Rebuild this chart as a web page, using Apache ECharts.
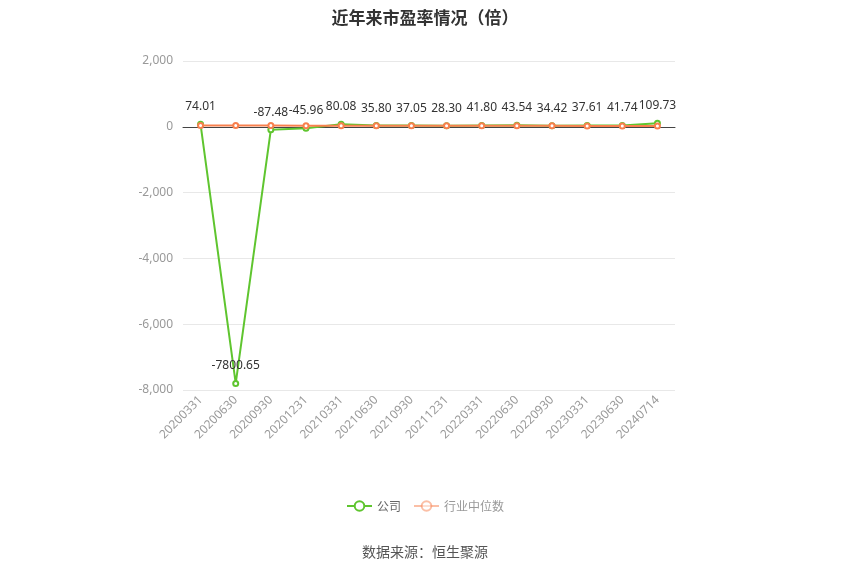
<!DOCTYPE html>
<html>
<head>
<meta charset="utf-8">
<script src="https://cdn.jsdelivr.net/npm/echarts@6/dist/echarts.min.js"></script>
<style>
  html, body { margin: 0; padding: 0; background: #fff; }
  #chart { width: 850px; height: 575px; }
</style>
</head>
<body>
<div id="chart"></div>
<script>
// 报告期
var categories = ['20200331', '20200630', '20200930', '20201231', '20210331', '20210630', '20210930',
  '20211231', '20220331', '20220630', '20220930', '20230331', '20230630', '20240714'];
// 公司市盈率
var companyPE = [74.01, -7800.65, -87.48, -45.96, 80.08, 35.80, 37.05, 28.30, 41.80, 43.54, 34.42, 37.61, 41.74, 109.73];
// 行业中位数（图上只能估读）
var industryPE = [40, 38, 36, 32, 35, 34, 33, 30, 31, 30, 29, 28, 27, 26];
var yTicks = { min: -8000, max: 2000, interval: 2000 };

var GREEN = '#5fc52f';
var ORANGE = '#f8804e';

var chart = echarts.init(document.getElementById('chart'));

var option = {
  title: {
    text: '近年来市盈率情况（倍）',
    left: 'center',
    top: 4,
    textStyle: { fontSize: 17, fontWeight: 'bold', color: '#333', fontFamily: 'Noto Sans CJK SC' }
  },
  graphic: [{
    type: 'text',
    left: 'center',
    top: 545,
    style: { text: '数据来源：恒生聚源', fill: '#555', font: '14px "Noto Sans CJK SC"' }
  }],
  legend: {
    bottom: 58,
    left: 'center',
    itemWidth: 25,
    itemHeight: 12,
    itemGap: 12,
    textStyle: { color: '#666', fontSize: 12, fontFamily: 'Noto Sans CJK SC' },
    data: [
      { name: '公司' },
      { name: '行业中位数', itemStyle: { opacity: 0.5 }, lineStyle: { opacity: 0.5 }, textStyle: { color: '#999' } }
    ]
  },
  grid: { left: 183, right: 175, top: 61, bottom: 185 },
  xAxis: {
    type: 'category',
    data: categories,
    boundaryGap: true,
    axisLine: { onZero: true, lineStyle: { color: '#444' } },
    axisTick: { alignWithLabel: true, lineStyle: { color: '#999' } },
    axisLabel: { rotate: 45, color: '#999', fontSize: 12, interval: 0, fontFamily: 'Noto Sans' }
  },
  yAxis: {
    type: 'value',
    min: yTicks.min,
    max: yTicks.max,
    interval: yTicks.interval,
    axisLine: { show: false },
    axisTick: { show: false },
    axisLabel: { color: '#999', fontSize: 12, fontFamily: 'Noto Sans', margin: 10 },
    splitLine: { lineStyle: { color: '#e8e8e8' } }
  },
  series: [
    {
      name: '公司',
      type: 'line',
      data: companyPE,
      symbol: 'emptyCircle',
      symbolSize: 5,
      z: 3,
      color: GREEN,
      lineStyle: { color: GREEN, width: 2 },
      itemStyle: { color: GREEN, borderWidth: 2 },
      label: {
        show: true,
        position: 'top',
        distance: 8,
        color: '#333',
        fontSize: 12,
        fontFamily: 'Noto Sans',
        formatter: function (p) { return p.value.toFixed(2); }
      }
    },
    {
      name: '行业中位数',
      type: 'line',
      data: industryPE,
      symbol: 'emptyCircle',
      symbolSize: 5,
      z: 4,
      color: ORANGE,
      lineStyle: { color: ORANGE, width: 2 },
      itemStyle: { color: ORANGE, borderWidth: 2 }
    }
  ]
};

chart.setOption(option);
</script>
</body>
</html>
